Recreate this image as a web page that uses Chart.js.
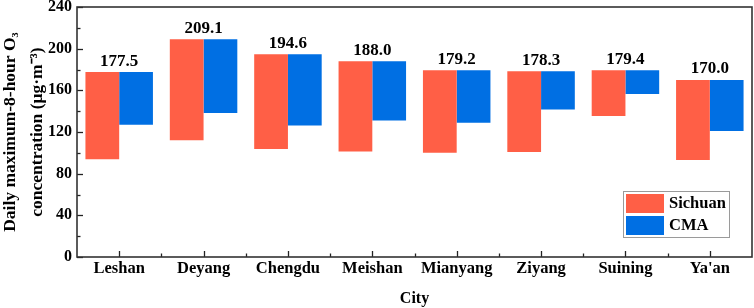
<!DOCTYPE html>
<html>
<head>
<meta charset="utf-8">
<script src="https://cdn.jsdelivr.net/npm/chart.js@4/dist/chart.umd.min.js"></script>
<style>
html,body{margin:0;padding:0;background:#fff;}
#wrap{width:754px;height:308px;position:relative;}
</style>
</head>
<body>
<div id="wrap"><canvas id="c" width="754" height="308"></canvas></div>
<script>
const cities = ["Leshan","Deyang","Chengdu","Meishan","Mianyang","Ziyang","Suining","Ya'an"];
const topValues = [177.5, 209.1, 194.6, 188.0, 179.2, 178.3, 179.4, 170.0];
const sichuanLow = [93.9, 112.2, 103.8, 101.2, 100.0, 100.9, 135.3, 93.2];
const cmaLow = [126.9, 138.2, 126.2, 131.0, 128.8, 141.7, 156.5, 121.0];
const seriesNames = ["Sichuan", "CMA"];
const seriesColors = ["#FF5F46", "#006FE3"];
const yTicks = [0, 40, 80, 120, 160, 200, 240];

const FONT = "'Liberation Serif', 'Times New Roman', serif";

const framePlugin = {
  id: 'frame',
  afterDraw(chart) {
    const {ctx, chartArea: a, scales: {x, y}} = chart;
    ctx.save();
    ctx.strokeStyle = '#222';
    ctx.lineWidth = 1.3;
    for (let v = 0; v <= 240; v += 20) {
      const py = Math.round(y.getPixelForValue(v)) + 0.5;
      const len = (v % 40 === 0) ? 6 : 3.5;
      ctx.beginPath(); ctx.moveTo(a.left, py); ctx.lineTo(a.left + len, py); ctx.stroke();
    }
    for (let i = 0; i < cities.length; i++) {
      const px = Math.round(x.getPixelForValue(i)) + 0.5;
      ctx.beginPath(); ctx.moveTo(px, a.bottom); ctx.lineTo(px, a.bottom - 6); ctx.stroke();
      if (i > 0) {
        const bx = Math.round((x.getPixelForValue(i) + x.getPixelForValue(i - 1)) / 2) + 0.5;
        ctx.beginPath(); ctx.moveTo(bx, a.bottom); ctx.lineTo(bx, a.bottom - 3.5); ctx.stroke();
      }
    }
    ctx.strokeStyle = '#333';
    ctx.lineWidth = 1.6;
    ctx.strokeRect(a.left, a.top, a.right - a.left, a.bottom - a.top);
    ctx.fillStyle = '#000';
    ctx.font = "bold 17px " + FONT;
    ctx.textAlign = 'center';
    ctx.textBaseline = 'alphabetic';
    topValues.forEach((v, i) => {
      ctx.fillText(v.toFixed(1), x.getPixelForValue(i), y.getPixelForValue(v) - 6.5);
    });
    const lx = 623.5, ly = 191.5, lw = 106, lh = 46;
    ctx.strokeStyle = '#9a9a9a';
    ctx.lineWidth = 1;
    ctx.fillStyle = '#fff';
    ctx.fillRect(lx, ly, lw, lh);
    ctx.strokeRect(lx, ly, lw, lh);
    ctx.font = "bold 16.5px " + FONT;
    ctx.textAlign = 'left';
    ctx.textBaseline = 'middle';
    seriesNames.forEach((n, i) => {
      const sy = 194 + i * 22;
      ctx.fillStyle = seriesColors[i];
      ctx.fillRect(626, sy, 38, 19);
      ctx.fillStyle = '#000';
      ctx.fillText(n, 669, sy + 10);
    });
    ctx.restore();
  }
};

new Chart(document.getElementById('c'), {
  type: 'bar',
  data: {
    labels: cities,
    datasets: [
      { label: seriesNames[0], data: topValues.map((t, i) => [sichuanLow[i], t]), backgroundColor: seriesColors[0], borderWidth: 0 },
      { label: seriesNames[1], data: topValues.map((t, i) => [cmaLow[i], t]), backgroundColor: seriesColors[1], borderWidth: 0 }
    ]
  },
  options: {
    responsive: false,
    animation: false,
    devicePixelRatio: 1,
    layout: { padding: { top: 7, right: 2, left: 0, bottom: 0 } },
    plugins: { legend: { display: false }, tooltip: { enabled: false } },
    datasets: { bar: { categoryPercentage: 0.8, barPercentage: 1.0, grouped: true } },
    scales: {
      x: {
        offset: true,
        grid: { display: false, drawTicks: false },
        border: { display: false },
        ticks: { color: '#000', font: { family: FONT, size: 16.5, weight: 'bold', lineHeight: 0.8 }, padding: 5, maxRotation: 0 },
        title: { display: true, text: 'City', color: '#000', font: { family: FONT, size: 16, weight: 'bold' }, padding: { top: 4, bottom: 0 } },
        afterFit(s) { s.height = 51; s.paddingLeft = 0; s.paddingRight = 0; }
      },
      y: {
        min: 0, max: 240,
        afterBuildTicks(s) { s.ticks = yTicks.map(v => ({ value: v })); },
        grid: { display: false, drawTicks: false },
        border: { display: false },
        ticks: { color: '#000', font: { family: FONT, size: 16, weight: 'bold', lineHeight: 0.2 }, padding: 5 },
        title: {
          display: true,
          text: ['Daily maximum-8-hour O\u2083', 'concentration (\u03BCg\u00B7m\u207B\u00B3)'],
          color: '#000',
          font: { family: FONT, size: 17.5, weight: 'bold', lineHeight: 1.55 },
          padding: { top: -3, bottom: 0 }
        },
        afterFit(s) { s.width = 77; s.paddingTop = 0; s.paddingBottom = 0; }
      }
    }
  },
  plugins: [framePlugin]
});
</script>
</body>
</html>
